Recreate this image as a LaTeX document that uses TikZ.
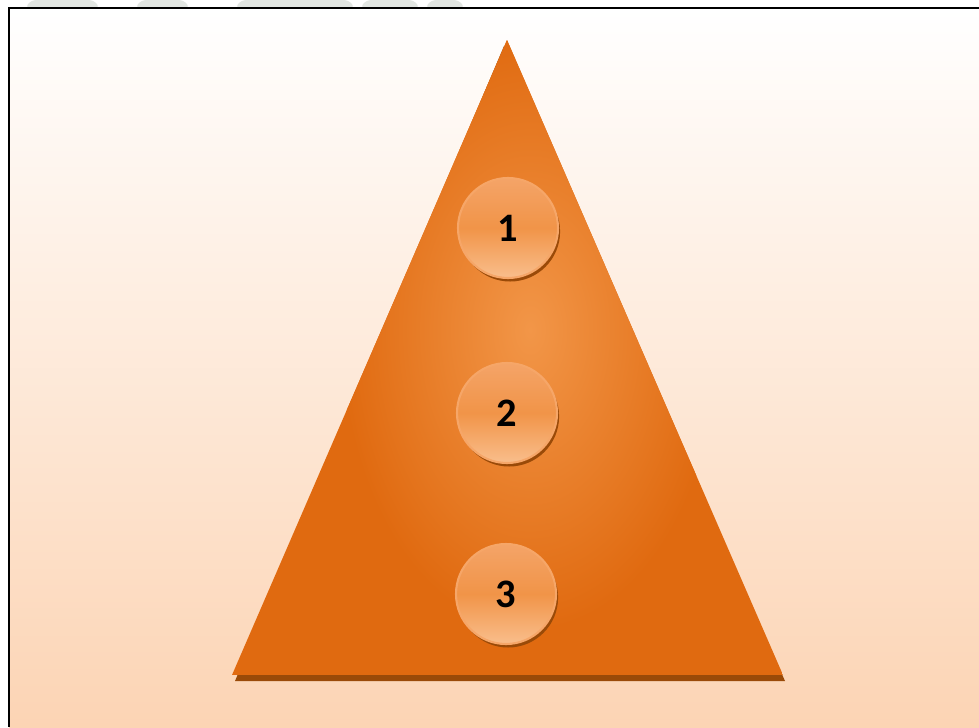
\documentclass[tikz,border=0pt]{standalone}
\usepackage{fontspec}
\usepackage{xcolor}
\usepackage{tikz}
\usetikzlibrary{shadows}
\newfontfamily\numfont{Carlito}

\definecolor{peach}{RGB}{252,212,180}
\definecolor{pyrorange}{RGB}{224,106,16}
\definecolor{pyrlight}{RGB}{242,150,72}
\definecolor{pyrshadow}{RGB}{154,74,8}
\definecolor{ballrim}{RGB}{246,166,104}
\definecolor{balltop}{RGB}{244,164,104}
\definecolor{ballmid}{RGB}{241,148,72}
\definecolor{ballbot}{RGB}{249,190,140}
\definecolor{markgray}{RGB}{226,230,226}

\begin{document}
\begin{tikzpicture}[
  x=0.02cm,y=-0.02cm,
  level/.style={circle,minimum size=2cm,inner sep=0pt,
    top color=balltop,bottom color=ballbot,middle color=ballmid,
    draw=ballrim,line width=1.2pt,
    font=\numfont\fontsize{23}{27}\selectfont\bfseries,
    drop shadow={shadow xshift=1.2pt,shadow yshift=-2pt,
      fill=pyrshadow,opacity=1}}]
\useasboundingbox (0,0) rectangle (979,727);
% background
\shade[top color=white,bottom color=peach] (9,8) rectangle (979,727);
\fill[white] (0,0) rectangle (979,8);
\foreach \a/\b in {25/100,135/190,235/355,360/420,425/465}
  \fill[markgray,rounded corners=3pt] (\a,8) -- (\a+6,0) -- (\b-6,0) -- (\b,8) -- cycle;
\draw[line width=1.4pt] (9,727) -- (9,8) -- (979,8);
% pyramid
\fill[pyrshadow] (504,46) -- (235,681) -- (785,681) -- cycle;
\begin{scope}
  \clip (507,40) -- (232,675) -- (783,675) -- cycle;
  \fill[pyrorange] (232,40) rectangle (783,675);
  \shade[inner color=pyrlight,outer color=pyrorange] (530,330) ellipse (190 and 300);
\end{scope}
% levels
\foreach \n/\x/\y in {1/508/228,2/507/413,3/506/594}
  \node[level] (c\n) at (\x,\y) {\n};
\end{tikzpicture}
\end{document}
